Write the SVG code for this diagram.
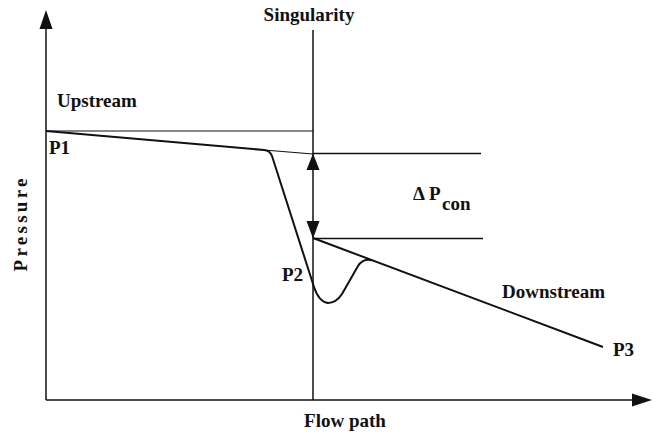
<svg xmlns="http://www.w3.org/2000/svg" width="654" height="434" viewBox="0 0 654 434">
<style>
text{font-family:"Liberation Serif","Times New Roman",serif;font-weight:bold;font-size:19px;fill:#111}
.ax{stroke:#111;stroke-width:1.5;fill:none}
.thin{stroke:#111;stroke-width:1.1;fill:none}
.curve{stroke:#111;stroke-width:2;fill:none;stroke-linejoin:round}
.head{fill:#111;stroke:none}
</style>
<rect width="654" height="434" fill="#fff"/>
<g id="axes">
<line class="ax" x1="46" y1="400" x2="46" y2="26"/>
<polygon class="head" points="46,10 52.5,29 39.5,29"/>
<line class="ax" x1="46" y1="400" x2="636" y2="400"/>
<polygon class="head" points="652,400 632,393.5 632,406.5"/>
</g>
<g id="singularity">
<line class="ax" x1="313" y1="30" x2="313" y2="400"/>
<line class="thin" x1="46" y1="131" x2="313" y2="131"/>
</g>
<g id="levels">
<line class="ax" x1="313" y1="153.5" x2="481" y2="153.5"/>
<line class="ax" x1="313" y1="238.5" x2="483" y2="238.5"/>
<polygon class="head" points="313,153.5 319.5,170 306.5,170"/>
<polygon class="head" points="313,238.5 319.5,221 306.5,221"/>
</g>
<g id="pressure-curve">
<path class="curve" d="M46,131 L264,150 Q270,150.6 272,156 L314,287 Q319,302 328,303 Q336,303 342,294 L358,266 Q363,258 372,260.2"/>
<line class="thin" x1="264" y1="150" x2="313" y2="154"/>
<line class="curve" x1="313" y1="238" x2="603" y2="347"/>
</g>
<g id="labels">
<text x="309" y="21" text-anchor="middle">Singularity</text>
<text x="57" y="107">Upstream</text>
<text x="49" y="154">P1</text>
<text x="282" y="281">P2</text>
<text x="413" y="200">Δ<tspan x="429">P</tspan></text>
<text x="442" y="210">con</text>
<text x="502" y="298">Downstream</text>
<text x="613" y="356">P3</text>
<text x="345" y="427" text-anchor="middle">Flow path</text>
<text transform="translate(27,225) rotate(-90)" text-anchor="middle" textLength="93" lengthAdjust="spacing">Pressure</text>
</g>
</svg>
